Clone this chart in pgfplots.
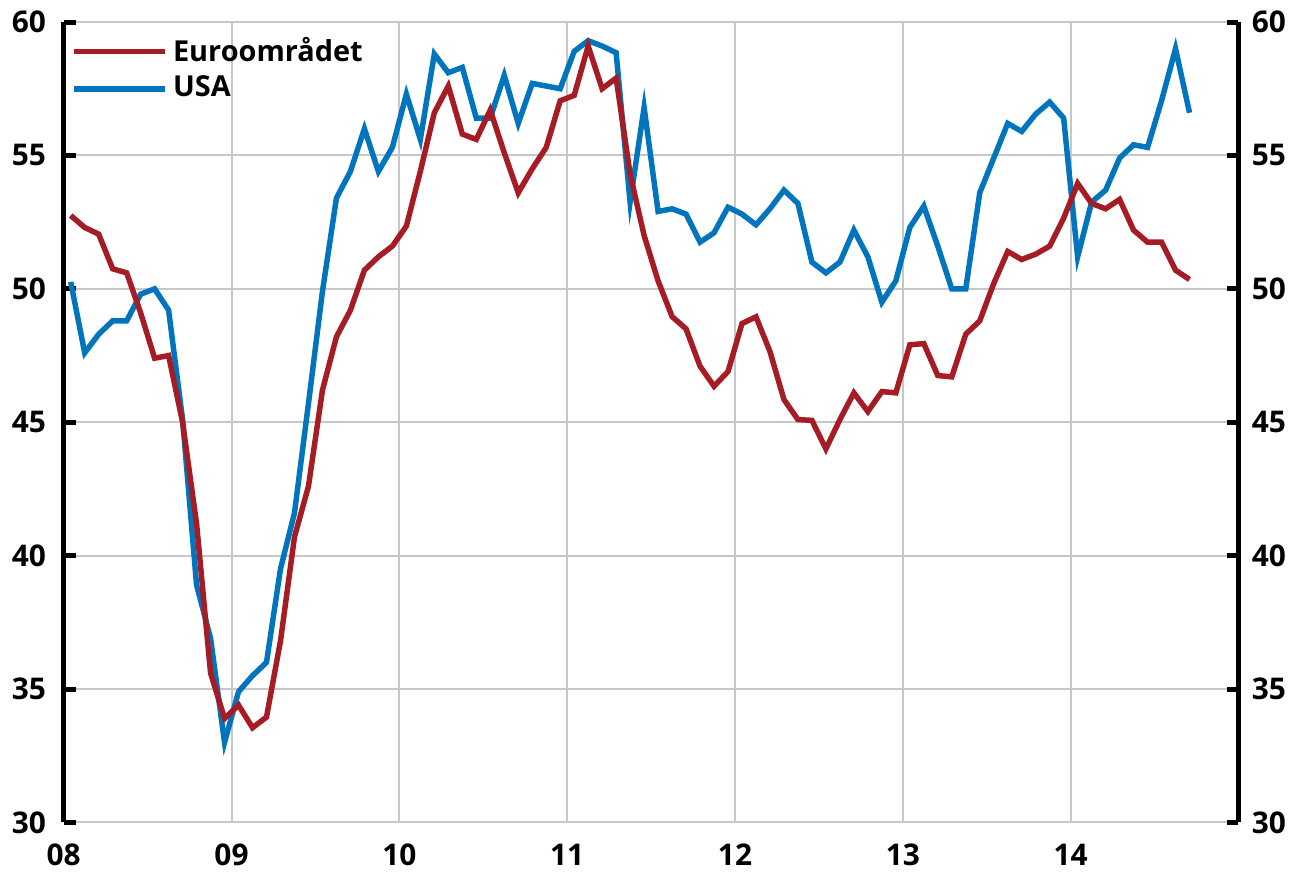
\documentclass[border=0pt]{standalone}
\usepackage{fontspec}
\setmainfont{Open Sans}
\usepackage{pgfplots}
\usepackage{pgfplotstable}
\pgfplotsset{compat=1.18}
\usetikzlibrary{calc}
\definecolor{cEuro}{RGB}{166,28,36}
\definecolor{cUSA}{RGB}{0,117,190}

% months since Jan 2008 (mid-month), PMI levels
\pgfplotstableread{
m euro usa
0.5 52.75 50.26
1.5 52.3 47.6
2.5 52.05 48.3
3.5 50.75 48.8
4.5 50.6 48.8
5.5 49.1 49.8
6.5 47.4 50.0
7.5 47.5 49.2
8.5 45.0 45.1
9.5 41.2 38.9
10.5 35.6 36.9
11.5 33.9 33.0
12.5 34.4 34.9
13.5 33.55 35.5
14.5 33.95 36.0
15.5 36.8 39.5
16.5 40.7 41.6
17.5 42.6 45.7
18.5 46.2 49.9
19.5 48.2 53.4
20.5 49.2 54.4
21.5 50.7 56.0
22.5 51.2 54.4
23.5 51.6 55.3
24.5 52.35 57.3
25.5 54.4 55.6
26.5 56.6 58.8
27.5 57.6 58.1
28.5 55.8 58.3
29.5 55.6 56.4
30.5 56.7 56.4
31.5 55.1 58.0
32.5 53.6 56.2
33.5 54.5 57.7
34.5 55.3 57.6
35.5 57.05 57.5
36.5 57.25 58.9
37.5 59.1 59.3
38.5 57.5 59.1
39.5 57.9 58.85
40.5 54.3 53.25
41.5 52.0 56.8
42.5 50.3 52.9
43.5 48.96 53.0
44.5 48.5 52.8
45.5 47.1 51.75
46.5 46.35 52.1
47.5 46.9 53.06
48.5 48.7 52.8
49.5 48.95 52.4
50.5 47.65 53.0
51.5 45.85 53.7
52.5 45.1 53.2
53.5 45.07 51.0
54.5 44.0 50.6
55.5 45.1 51.0
56.5 46.1 52.2
57.5 45.4 51.2
58.5 46.15 49.5
59.5 46.1 50.3
60.5 47.9 52.3
61.5 47.95 53.1
62.5 46.75 51.6
63.5 46.7 50.0
64.5 48.3 50.0
65.5 48.8 53.6
66.5 50.2 54.9
67.5 51.4 56.2
68.5 51.1 55.9
69.5 51.3 56.55
70.5 51.6 57.0
71.5 52.65 56.4
72.5 53.95 51.2
73.5 53.2 53.25
74.5 53.0 53.7
75.5 53.35 54.9
76.5 52.2 55.4
77.5 51.75 55.3
78.5 51.75 57.05
79.5 50.7 59.0
80.5 50.35 56.6
}\pmidata

\pgfplotsset{
  pmibase/.style={
    width=354pt, height=241.2pt, scale only axis,
    xmin=0, xmax=84, ymin=30, ymax=60,
    ytick={30,35,...,60},
    /pgf/number format/assume math mode=true,
    tick label style={font=\fontsize{9}{11}\selectfont\bfseries},
  },
}

\begin{document}
\begin{tikzpicture}
\begin{axis}[
  pmibase, name=ax,
  xtick={0,12,...,72}, xticklabels={08,09,10,11,12,13,14},
  separate axis lines,
  x axis line style={draw=none},
  y axis line style={line width=1.5pt, black},
  xmajorgrids, ymajorgrids,
  grid style={black!22, line width=0.6pt},
  tick align=inside, major tick length=3.6pt,
  x tick style={draw=none},
  y tick style={line width=1.5pt, black},
  ytick pos=both, yticklabel pos=left,
  yticklabel style={xshift=-1.8pt},
  xticklabel style={yshift=-3pt},
  reverse legend,
  legend cell align=left,
  legend style={at={(0,1)}, anchor=north west, xshift=-1pt, yshift=-0.8pt,
    draw=none, fill=none, font=\fontsize{8.7}{11}\selectfont\bfseries,
    row sep=0pt, nodes={inner sep=1.5pt}},
  legend image code/.code={\draw[#1] (0pt,0pt) -- (27.6pt,0pt);},
]
\addplot[cUSA, line width=1.65pt] table[x=m, y=usa] {\pmidata};
\addlegendentry{USA}
\addplot[cEuro, line width=1.65pt] table[x=m, y=euro] {\pmidata};
\addlegendentry{Euroområdet}
\end{axis}
\begin{axis}[
  pmibase,
  xtick=\empty,
  axis line style={draw=none},
  major tick style={draw=none},
  ytick pos=right, yticklabel pos=right,
  yticklabel style={xshift=0.5pt},
]
\end{axis}
\path ($(ax.south west)+(-19.2pt,-15.6pt)$) rectangle ($(ax.north east)+(15.9pt,6.3pt)$);
\end{tikzpicture}
\end{document}
